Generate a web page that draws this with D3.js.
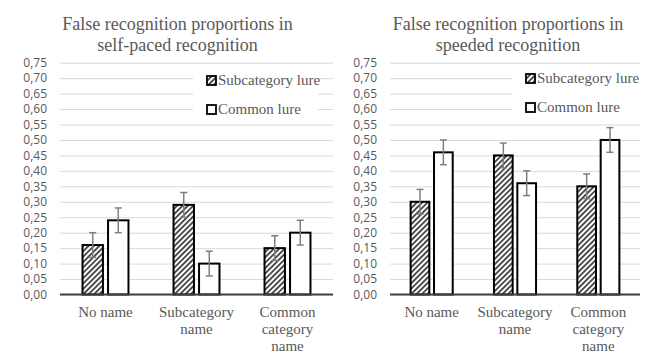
<!DOCTYPE html>
<html>
<head>
<meta charset="utf-8">
<script src="https://cdn.jsdelivr.net/npm/d3@7"></script>
<style>
body{margin:0;background:#fff;}
svg{display:block;}
</style>
</head>
<body>
<svg id="chart" width="670" height="355"></svg>
<script>
'use strict';

var categories=['No name','Subcategory name','Common category name']
  , categoryLines=[['No name'],['Subcategory','name'],['Common','category','name']]
  , series=['Subcategory lure','Common lure']
  , selfPacedSub=[0.16,0.29,0.15]
  , selfPacedCommon=[0.24,0.10,0.20]
  , selfPacedSubErr=[0.04,0.04,0.04]
  , selfPacedCommonErr=[0.04,0.04,0.04]
  , speededSub=[0.30,0.45,0.35]
  , speededCommon=[0.46,0.36,0.50]
  , speededSubErr=[0.04,0.04,0.04]
  , speededCommonErr=[0.04,0.04,0.04]
  , yTicks=[0,0.05,0.10,0.15,0.20,0.25,0.30,0.35,0.40,0.45,0.50,0.55,0.60,0.65,0.70,0.75]
  , titles=[['False recognition proportions in','self-paced recognition'],
            ['False recognition proportions in','speeded recognition']];

var svg=d3.select('#chart')
  , grey='#595959'
  , fmt=function(v){return d3.format('.2f')(v).replace('.',',');};

// hatch for the subcategory bars
svg.append('defs').append('pattern')
    .attr('id','hatch')
    .attr('patternUnits','userSpaceOnUse')
    .attr('width',3.8)
    .attr('height',4)
    .attr('patternTransform','rotate(45)')
  .call(function(p){
    p.append('rect').attr('width',3.8).attr('height',4).attr('fill','#fff');
    p.append('line')
        .attr('x1',0.9).attr('y1',0).attr('x2',0.9).attr('y2',4)
        .attr('stroke','#1a1a1a').attr('stroke-width',1.5);
  });

function panel(o){
    var g=svg.append('g')
      , y=d3.scaleLinear().domain([0,0.75]).range([294.5,62.7])
      , x0=d3.scaleBand().domain(categories).range([o.left,o.right])
      , bw=x0.bandwidth()
      , x1=d3.scaleBand().domain(series).range([bw*0.2475,bw*0.7525]).paddingInner(0.2)
      , rows=categories.map(function(c,i){
            return [{c:c,s:series[0],v:o.sub[i],e:o.subErr[i]},
                    {c:c,s:series[1],v:o.common[i],e:o.commonErr[i]}];
        })
      , flat=[].concat.apply([],rows);

    // title
    g.append('text')
        .attr('x',o.titleX)
        .attr('y',30)
        .attr('text-anchor','middle')
        .attr('font-family','Liberation Serif, Times New Roman, serif')
        .attr('font-size',18)
        .attr('fill',grey)
      .selectAll('tspan').data(o.title).enter().append('tspan')
        .attr('x',o.titleX)
        .attr('dy',function(d,i){return i?21:0;})
        .text(function(d){return d;});

    // grid + y labels
    var ya=g.append('g')
        .attr('transform','translate('+o.left+',0)')
        .call(d3.axisLeft(y).tickValues(yTicks).tickFormat(fmt)
            .tickSize(-(o.right-o.left)).tickPadding(13));
    ya.select('.domain').remove();
    ya.selectAll('.tick line').attr('stroke','#d9d9d9').attr('stroke-width',1);
    ya.selectAll('.tick text')
        .attr('fill',grey)
        .attr('font-family','Open Sans, Liberation Sans, sans-serif')
        .attr('font-size',12);

    // legend box hides the grid behind it
    g.append('rect')
        .attr('x',o.legX-14)
        .attr('y',66)
        .attr('width',o.legW)
        .attr('height',52)
        .attr('fill','#fff');

    var leg=g.selectAll('.leg').data(series).enter().append('g')
        .attr('class','leg')
        .attr('transform',function(d,i){return 'translate('+o.legX+','+(o.legY+i*29)+')';});
    leg.append('rect')
        .attr('x',0).attr('y',-9)
        .attr('width',9).attr('height',9)
        .attr('fill',function(d,i){return i?'#fff':'url(#hatch)';})
        .attr('stroke','#000').attr('stroke-width',1.8);
    leg.append('text')
        .attr('x',11)
        .attr('y',0)
        .attr('font-family','Liberation Serif, Times New Roman, serif')
        .attr('font-size',15)
        .attr('fill',grey)
        .text(function(d){return d;});

    // bars
    g.selectAll('.bar').data(flat).enter().append('rect')
        .attr('class','bar')
        .attr('x',function(d){return x0(d.c)+x1(d.s);})
        .attr('y',function(d){return y(d.v);})
        .attr('width',x1.bandwidth())
        .attr('height',function(d){return y(0)-y(d.v);})
        .attr('fill',function(d){return d.s==series[0]?'url(#hatch)':'#fff';})
        .attr('stroke','#000')
        .attr('stroke-width',2);

    // error bars
    var eb=g.selectAll('.err').data(flat).enter().append('g')
        .attr('class','err')
        .attr('stroke','#7f7f7f')
        .attr('stroke-width',1.5);
    eb.append('line')
        .attr('x1',function(d){return x0(d.c)+x1(d.s)+x1.bandwidth()/2;})
        .attr('x2',function(d){return x0(d.c)+x1(d.s)+x1.bandwidth()/2;})
        .attr('y1',function(d){return y(d.v+d.e);})
        .attr('y2',function(d){return y(d.v-d.e);});
    [1,-1].forEach(function(sgn){
        eb.append('line')
            .attr('x1',function(d){return x0(d.c)+x1(d.s)+x1.bandwidth()/2-3.5;})
            .attr('x2',function(d){return x0(d.c)+x1(d.s)+x1.bandwidth()/2+3.5;})
            .attr('y1',function(d){return y(d.v+sgn*d.e);})
            .attr('y2',function(d){return y(d.v+sgn*d.e);});
    });

    // baseline
    g.append('line')
        .attr('x1',o.left).attr('x2',o.right)
        .attr('y1',y(0)).attr('y2',y(0))
        .attr('stroke','#404040').attr('stroke-width',2);

    // category labels
    g.selectAll('.cat').data(categories).enter().append('text')
        .attr('class','cat')
        .attr('text-anchor','middle')
        .attr('font-family','Liberation Serif, Times New Roman, serif')
        .attr('font-size',15)
        .attr('fill',grey)
        .attr('y',317)
      .each(function(c,i){
        var cx=x0(c)+bw/2;
        d3.select(this).selectAll('tspan').data(categoryLines[i]).enter().append('tspan')
            .attr('x',cx)
            .attr('dy',function(d,j){return j?17:0;})
            .text(function(d){return d;});
      });
}

panel({left:60,right:333,titleX:177.5,title:titles[0],
       sub:selfPacedSub,common:selfPacedCommon,subErr:selfPacedSubErr,commonErr:selfPacedCommonErr,
       legX:207,legY:85,legW:125});
panel({left:390,right:640,titleX:508,title:titles[1],
       sub:speededSub,common:speededCommon,subErr:speededSubErr,commonErr:speededCommonErr,
       legX:526,legY:83,legW:130});
</script>
</body>
</html>
